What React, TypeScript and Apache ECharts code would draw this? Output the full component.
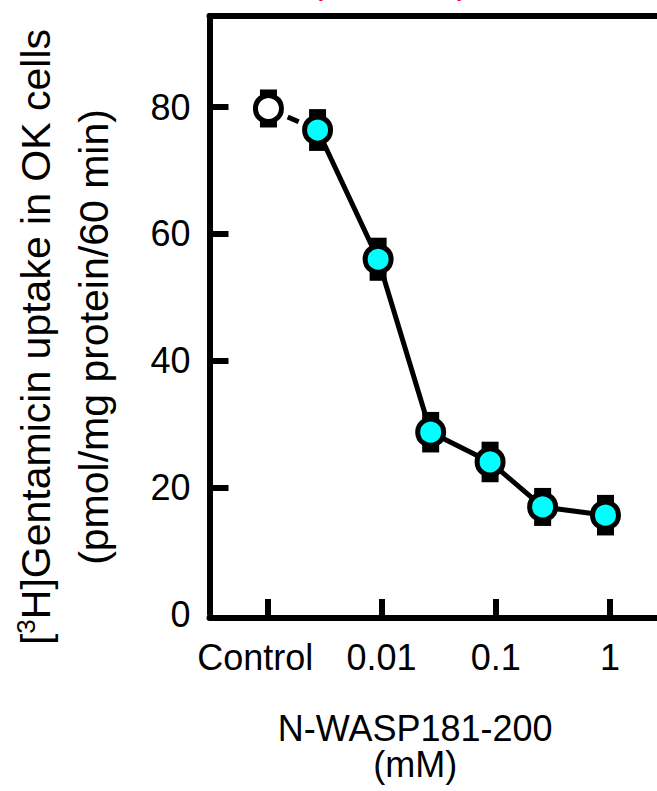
import React, { useEffect, useRef } from "react";
import * as echarts from "echarts";

// x positions are log10(mM); the control sits at the "Control" tick (-3)
const tickValues = [-3, -2, -1, 0];
const tickLabels = ["Control", "0.01", "0.1", "1"];
const xPositions = [-2.99, -2.56, -2.03, -1.57, -1.05, -0.59, -0.04];
const uptake = [79.8, 76.4, 56.0, 28.7, 24.0, 16.9, 15.6];
const sem = [3.0, 3.3, 3.4, 3.2, 3.2, 3.0, 3.2];
const yLabelValues = [0, 20, 40, 60, 80];
const yTickValues = [20, 40, 60, 80];

const FONT = "'Liberation Sans', Arial, sans-serif";

export default function App() {
  const ref = useRef<HTMLDivElement>(null);
  useEffect(() => {
    if (!ref.current) return;
    const chart = echarts.init(ref.current, undefined, { renderer: "svg" });

    const errData = xPositions.map((x, i) => [x, uptake[i], sem[i]]);
    const pts = xPositions.map((x, i) => ({
      value: [x, uptake[i]],
      itemStyle: { color: i === 0 ? "#ffffff" : "#00ffff" },
    }));

    const axisLineStyle = { color: "#000", width: 6, cap: "round" };

    chart.setOption({
      animation: false,
      backgroundColor: "#fff",
      grid: {
        left: 209.5,
        right: 0,
        top: 16,
        bottom: 177,
        containLabel: false,
        outerBoundsMode: "none",
      },
      graphic: [
        {
          type: "text",
          x: 390,
          y: -2,
          style: {
            text: "(OK cells)",
            fill: "#ff0000",
            font: `36px ${FONT}`,
            textAlign: "center",
            textVerticalAlign: "bottom",
          },
        },
      ],
      xAxis: [
        {
          type: "value",
          min: -3.506,
          max: 0.411,
          position: "bottom",
          offset: 4,
          splitLine: { show: false },
          axisLine: { onZero: false, lineStyle: axisLineStyle },
          axisTick: {
            inside: true,
            length: 19,
            lineStyle: { color: "#000", width: 6 },
            customValues: tickValues,
          },
          axisLabel: {
            customValues: tickValues,
            formatter: (v: number) => {
              const i = tickValues.indexOf(Math.round(v));
              if (i === 0) return "{c|" + tickLabels[0] + "}";
              return i >= 0 ? tickLabels[i] : "";
            },
            fontSize: 36,
            fontFamily: FONT,
            color: "#000",
            margin: 21,
            rich: {
              c: { fontSize: 36, fontFamily: FONT, color: "#000", padding: [0, 24, 0, 0] },
            },
          },
          name: "N-WASP181-200\n(mM)",
          nameLocation: "middle",
          nameGap: 92,
          nameTextStyle: {
            fontSize: 36,
            fontFamily: FONT,
            color: "#000",
            lineHeight: 36,
            padding: [0, 36, 0, 0],
          },
        },
        {
          type: "value",
          min: -3.506,
          max: 0.411,
          position: "top",
          splitLine: { show: false },
          axisLine: { onZero: false, lineStyle: axisLineStyle },
          axisTick: { show: false },
          axisLabel: { show: false },
        },
      ],
      yAxis: {
        type: "value",
        min: 0,
        max: 94.4,
        interval: 20,
        splitLine: { show: false },
        axisLine: { onZero: false, lineStyle: axisLineStyle },
        axisTick: {
          inside: true,
          length: 19,
          lineStyle: { color: "#000", width: 6 },
          customValues: yTickValues,
        },
        axisLabel: {
          customValues: yLabelValues,
          fontSize: 36,
          fontFamily: FONT,
          color: "#000",
          margin: 19,
        },
        name: "[{sup|3}H]Gentamicin uptake in OK cells\n(pmol/mg protein/60 min)",
        nameLocation: "middle",
        nameRotate: 90,
        nameGap: 87,
        nameTextStyle: {
          fontSize: 41,
          fontFamily: FONT,
          color: "#000",
          lineHeight: 58,
          padding: [0, 44, 0, 0],
          rich: {
            sup: { fontSize: 26, fontFamily: FONT, color: "#000", padding: [0, 0, 20, 0] },
          },
        },
      },
      series: [
        {
          type: "custom",
          name: "sem",
          z: 1,
          data: errData,
          encode: { x: 0, y: [1] },
          renderItem: (params: any, api: any) => {
            const x = api.value(0);
            const y = api.value(1);
            const e = api.value(2);
            const top = api.coord([x, y + e]);
            const bot = api.coord([x, y - e]);
            return {
              type: "rect",
              shape: { x: top[0] - 8.5, y: top[1], width: 17, height: bot[1] - top[1] },
              style: { fill: "#000" },
            };
          },
        },
        {
          type: "line",
          z: 2,
          symbol: "none",
          data: [
            [xPositions[0], uptake[0]],
            [xPositions[1], uptake[1]],
          ],
          lineStyle: { color: "#000", width: 5, type: [12, 9] },
        },
        {
          type: "line",
          z: 2,
          symbol: "none",
          data: xPositions.slice(1).map((x, i) => [x, uptake[i + 1]]),
          lineStyle: { color: "#000", width: 5 },
        },
        {
          type: "scatter",
          z: 3,
          symbol: "circle",
          symbolSize: 26,
          data: pts,
          itemStyle: { borderColor: "#000", borderWidth: 5, opacity: 1 },
        },
      ],
    });
    return () => chart.dispose();
  }, []);

  return (
    <div
      ref={ref}
      style={{ position: "fixed", left: 0, top: 0, width: 657, height: 791, background: "#fff" }}
    />
  );
}
